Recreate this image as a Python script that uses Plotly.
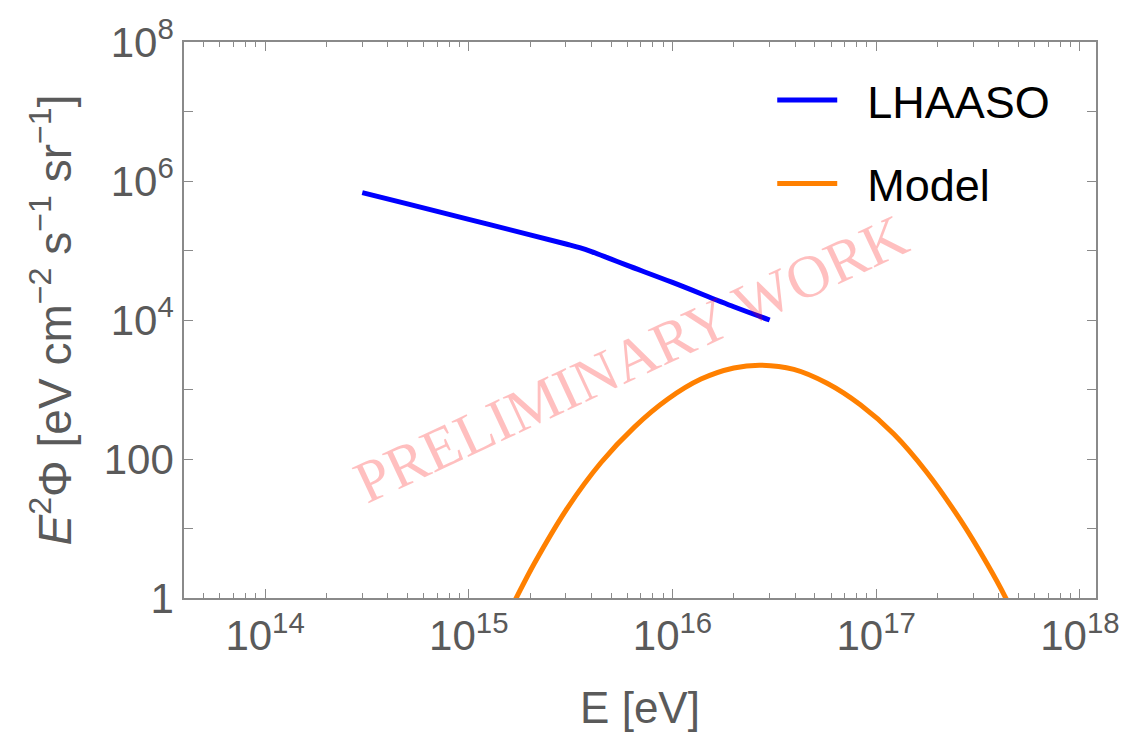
import plotly.graph_objects as go

# ---- data ----
lhaaso_E = [3e14, 5e14, 1e15, 2e15, 3e15, 3.5e15, 4e15, 5e15, 6e15, 1e16, 2e16, 3e16]
lhaaso_flux = [6.82e5, 4.68e5, 2.81e5, 1.68e5, 1.24e5, 1.10e5, 9.66e4, 7.5e4, 6.1e4,
               3.47e4, 1.55e4, 1.0e4]

model_E = [1.41e15, 1.71e15, 2.10e15, 3.06e15, 4.46e15, 6.50e15, 9.46e15, 1.38e16, 2.00e16,
           2.71e16, 3.94e16, 5.74e16, 8.36e16, 1.22e17, 1.77e17, 2.58e17, 3.49e17, 4.29e17, 5.25e17]
model_flux = [0.32, 1.0, 3.16, 20, 89, 288, 724, 1413, 2042,
              2239, 1950, 1230, 603, 229, 64.6, 13.5, 3.16, 1.05, 0.30]

x_major = [1e14, 1e15, 1e16, 1e17, 1e18]
x_major_text = ["10<sup>14</sup>", "10<sup>15</sup>", "10<sup>16</sup>",
                "10<sup>17</sup>", "10<sup>18</sup>"]
x_minor = [m * 10 ** e for e in range(13, 18) for m in range(2, 10)]
y_ticks = [1e0, 1e1, 1e2, 1e3, 1e4, 1e5, 1e6, 1e7, 1e8]
y_ticktext = ["1", "", "100", "", "10<sup>4</sup>", "", "10<sup>6</sup>", "", "10<sup>8</sup>"]

FONT = "Liberation Sans, Arial, sans-serif"
AXC = "#8a8a8a"
TXT = "#5a5a5a"
NB = "\u00a0\u00a0"

fig = go.Figure()
fig.add_trace(go.Scatter(x=lhaaso_E, y=lhaaso_flux, mode="lines", name=NB + "LHAASO",
                         line=dict(color="#0000ff", width=5, shape="spline", smoothing=1),
                         legendgroup="a"))
fig.add_trace(go.Scatter(x=model_E, y=model_flux, mode="lines", name=NB + "Model",
                         line=dict(color="#ff8000", width=5, shape="spline", smoothing=1),
                         legendgroup="b"))

fig.update_layout(
    width=1132, height=736,
    margin=dict(l=184, r=35, t=38, b=134),
    paper_bgcolor="white", plot_bgcolor="white",
    font=dict(family=FONT, size=42, color=TXT),
    showlegend=True,
    legend=dict(x=0.645, y=0.96, xanchor="left", yanchor="top",
                bgcolor="rgba(0,0,0,0)", borderwidth=0,
                font=dict(family=FONT, size=45, color="black"),
                itemwidth=60, tracegroupgap=22),
    xaxis=dict(type="log", range=[13.602, 18.079],
               tickmode="array", tickvals=x_major, ticktext=x_major_text,
               ticks="inside", ticklen=9, tickwidth=1.3, tickcolor=AXC,
               showline=True, linecolor=AXC, linewidth=1.6, mirror="allticks",
               showgrid=False, zeroline=False,
               minor=dict(tickmode="array", tickvals=x_minor, ticks="inside",
                          ticklen=5, tickwidth=1.1, tickcolor=AXC, showgrid=False),
               tickfont=dict(family=FONT, size=42, color=TXT),
               title=dict(text="E [eV]", font=dict(family=FONT, size=44, color=TXT),
                          standoff=34)),
    yaxis=dict(type="log", range=[0, 8],
               tickmode="array", tickvals=y_ticks, ticktext=y_ticktext,
               ticks="inside", ticklen=9, tickwidth=1.3, tickcolor=AXC,
               showline=True, linecolor=AXC, linewidth=1.6, mirror="allticks",
               showgrid=False, zeroline=False,
               tickfont=dict(family=FONT, size=42, color=TXT),
               title=dict(text="<i>E</i><sup>2</sup>Φ [eV cm<sup>−2</sup> s<sup>−1</sup> sr<sup>−1</sup>]",
                          font=dict(family=FONT, size=46, color=TXT), standoff=18)),
)

fig.add_annotation(text="PRELIMINARY WORK", xref="paper", yref="paper",
                   x=0.49, y=0.43, xanchor="center", yanchor="middle",
                   textangle=-25, showarrow=False,
                   font=dict(family="Liberation Serif, Times New Roman, serif",
                             size=60, color="rgba(255,0,0,0.25)"))

fig.write_html("out.html")
